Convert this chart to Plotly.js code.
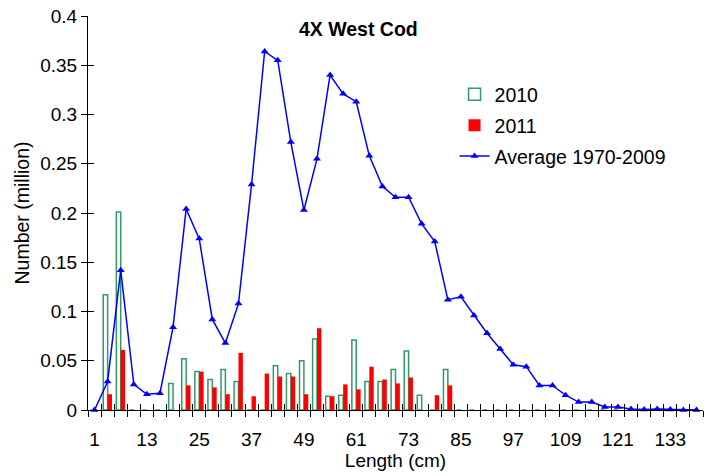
<!DOCTYPE html>
<html>
<head>
<meta charset="utf-8">
<script src="https://cdn.plot.ly/plotly-3.0.1.min.js"></script>
<style>html,body{margin:0;padding:0;background:#fff}</style>
</head>
<body>
<div id="chart" style="width:704px;height:476px"></div>
<script>
// Length classes (cm)
const lengths = [1,4,7,10,13,16,19,22,25,28,31,34,37,40,43,46,49,52,55,58,61,64,67,70,73,76,79,82,85,88,91,94,97,100,103,106,109,112,115,118,121,124,127,130,133,136,139];
// 2010 survey numbers (million)
const n2010 = [0,0.117,0.201,0,0,0,0.027,0.052,0.039,0.031,0.041,0.029,0,0,0.045,0.037,0.050,0.072,0.014,0.015,0.071,0.029,0.029,0.041,0.060,0.015,0,0.041,0,0,0,0,0,0,0,0,0,0,0,0,0,0,0,0,0,0,0];
// 2011 survey numbers (million)
const n2011 = [0,0.016,0.061,0,0,0,0,0.025,0.039,0.023,0.016,0.058,0.014,0.037,0.034,0.034,0.016,0.083,0.014,0.026,0.021,0.044,0.031,0.027,0.033,0,0.015,0.025,0,0,0,0,0,0,0,0,0,0,0,0,0,0,0,0,0,0,0];
// Average 1970-2009 (million)
const avg = [0,0.029,0.142,0.026,0.016,0.017,0.084,0.204,0.174,0.092,0.068,0.108,0.229,0.364,0.355,0.272,0.203,0.255,0.340,0.321,0.313,0.258,0.227,0.216,0.216,0.189,0.171,0.112,0.115,0.096,0.078,0.062,0.046,0.044,0.025,0.025,0.015,0.008,0.008,0.003,0.003,0.001,0.0005,0.001,0.0005,0,0];
// Tick labels
const xTickVals = [1,13,25,37,49,61,73,85,97,109,121,133];
const xTickText = xTickVals.map(String);

const font = 'Liberation Sans, Arial, sans-serif';

const traces = [
  {type:'bar', name:'2010', x:lengths, y:n2010, legendgroup:'a',
   marker:{color:'#ffffff', line:{color:'#339966', width:1.5}}},
  {type:'bar', name:'2011', x:lengths, y:n2011, legendgroup:'b',
   marker:{color:'#ff0000', line:{width:0}}},
  {type:'scatter', mode:'lines+markers', name:'Average 1970-2009', x:lengths, y:avg, legendgroup:'c',
   line:{color:'#0000ff', width:1.5}, marker:{symbol:'triangle-up', size:7, color:'#0000ff'}, cliponaxis:false},
  {type:'scatter', x:[], y:[], xaxis:'x2', yaxis:'y2', showlegend:false, hoverinfo:'skip'}
];

const layout = {
  width:704, height:476,
  margin:{l:88, r:1, t:16, b:66},
  paper_bgcolor:'#fff', plot_bgcolor:'#fff',
  font:{family:font, size:19, color:'#000'},
  barmode:'group', bargap:0.33, bargroupgap:0,
  title:{text:'<b>4X West Cod</b>', font:{family:font, size:19.5, color:'#000'},
         xref:'container', x:0.509, xanchor:'center', yref:'container', y:0.938, yanchor:'middle'},
  showlegend:true,
  legend:{x:0.596, y:0.85, xanchor:'left', yanchor:'top', font:{family:font, size:19.5},
          traceorder:'grouped', tracegroupgap:2.5, bgcolor:'rgba(0,0,0,0)'},
  xaxis:{range:[-0.5,140.5], tickmode:'array', tickvals:xTickVals, ticktext:xTickText,
         ticks:'', showgrid:false, zeroline:false, showline:true, linecolor:'#000', linewidth:1,
         tickfont:{family:font, size:19}, ticklabelstandoff:12,
         minor:{tickmode:'linear', tick0:-0.5, dtick:3, ticks:'outside', ticklen:6, tickcolor:'#000', tickwidth:1, showgrid:false},
         title:{text:'Length (cm)', font:{family:font, size:19}, standoff:0}},
  yaxis:{range:[0,0.4], tickmode:'linear', tick0:0, dtick:0.05, ticks:'outside', ticklen:6,
         tickcolor:'#000', showgrid:false, zeroline:false, showline:true, linecolor:'#000', linewidth:1,
         tickfont:{family:font, size:19},
         title:{text:'Number (million)', font:{family:font, size:19.5}, standoff:5}},
  xaxis2:{overlaying:'x', anchor:'y2', side:'bottom', range:[-0.5,140.5], tickmode:'linear', tick0:-0.5, dtick:3,
          ticks:'inside', ticklen:6, tickcolor:'#000', showticklabels:false, showgrid:false, zeroline:false, showline:false},
  yaxis2:{overlaying:'y', anchor:'x2', side:'left', range:[0,0.4], tickmode:'linear', tick0:0, dtick:0.05,
          ticks:'inside', ticklen:6, tickcolor:'#000', showticklabels:false, showgrid:false, zeroline:false, showline:false}
};

Plotly.newPlot('chart', traces, layout, {displayModeBar:false, staticPlot:true});
</script>
</body>
</html>
